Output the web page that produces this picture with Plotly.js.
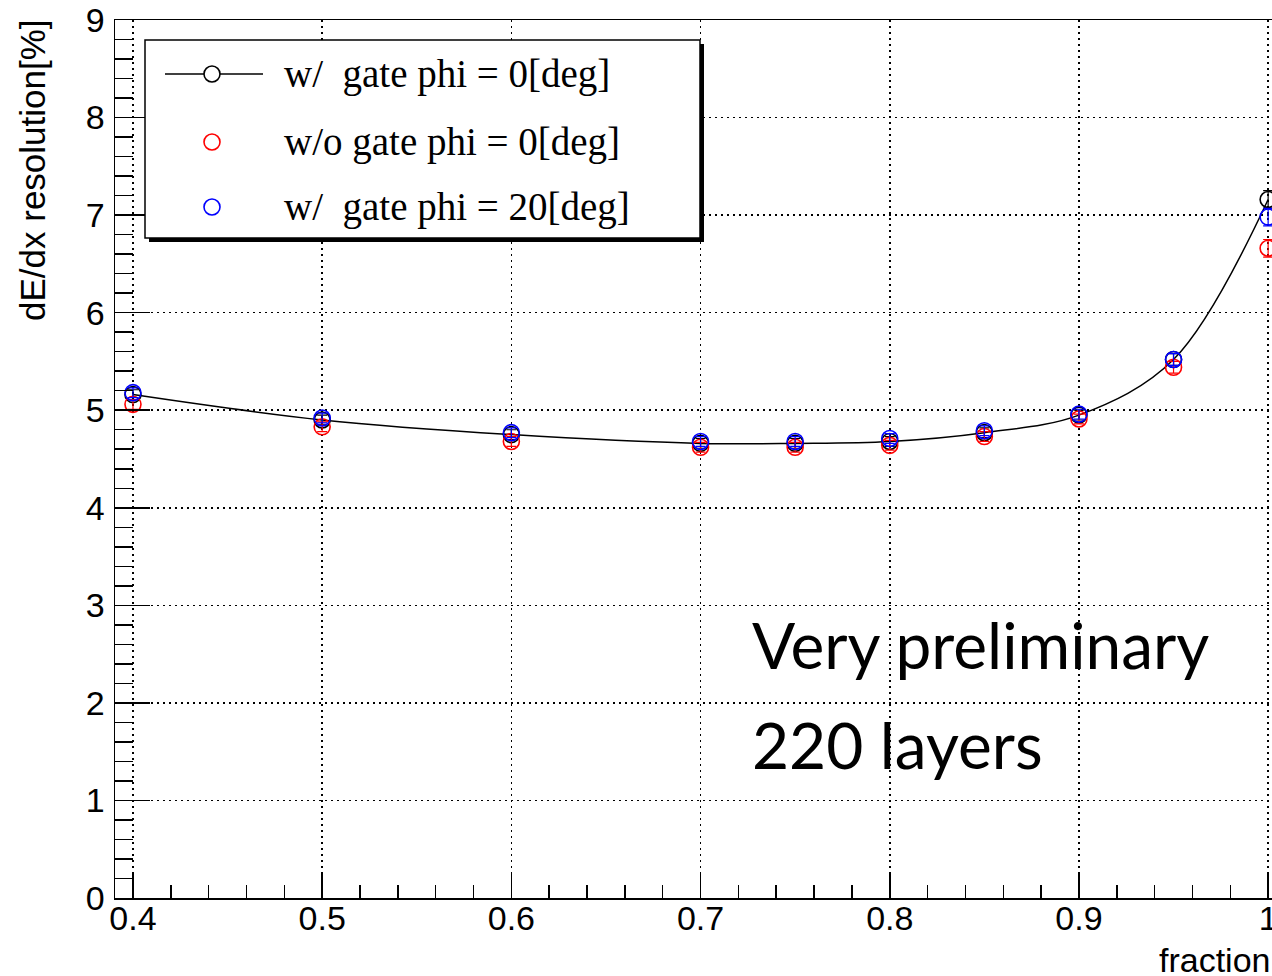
<!DOCTYPE html>
<html>
<head>
<meta charset="utf-8">
<script src="https://cdn.plot.ly/plotly-3.0.1.min.js"></script>
<style>html,body{margin:0;padding:0;overflow:hidden;background:#fff;width:1272px;height:976px;}</style>
</head>
<body>
<div id="chart" style="width:1295px;height:976px;"></div>
<script>
// ---- data ----
var fraction = [0.4, 0.5, 0.6, 0.7, 0.75, 0.8, 0.85, 0.9, 0.95, 1.0];
var gatePhi0 = [5.16, 4.90, 4.75, 4.66, 4.66, 4.68, 4.77, 4.95, 5.52, 7.16];
var noGatePhi0 = [5.06, 4.83, 4.68, 4.62, 4.62, 4.64, 4.73, 4.91, 5.44, 6.66];
var gatePhi20 = [5.18, 4.92, 4.77, 4.68, 4.68, 4.71, 4.79, 4.96, 5.52, 6.98];
var errGatePhi0 = [0.05, 0.05, 0.05, 0.05, 0.05, 0.05, 0.05, 0.05, 0.06, 0.09];
var errNoGatePhi0 = [0.05, 0.05, 0.05, 0.05, 0.05, 0.05, 0.05, 0.05, 0.06, 0.09];
var errGatePhi20 = [0.05, 0.05, 0.05, 0.05, 0.05, 0.05, 0.05, 0.05, 0.06, 0.09];
var seriesNames = ["w/\u00A0\u00A0gate phi = 0[deg]", "w/o gate phi = 0[deg]", "w/\u00A0\u00A0gate phi = 20[deg]"];
var xTickVals = [0.4, 0.5, 0.6, 0.7, 0.8, 0.9, 1.0];
var xTickText = ["0.4", "0.5", "0.6", "0.7", "0.8", "0.9", "1"];
var yTickVals = [0, 1, 2, 3, 4, 5, 6, 7, 8, 9];
var yTickText = ["0", "1", "2", "3", "4", "5", "6", "7", "8", "9"];
var xTitle = "fraction";
var yTitle = "dE/dx resolution[%]";
var noteLines = ["Very preliminary", "220 layers"];

// ---- geometry helpers (pixels -> paper) ----
var L = 115, T = 20, W = 1173, H = 878;
function px(x) { return (x - L) / W; }
function py(y) { return (T + H - y) / H; }

var markerSize = 16;
function series(y, err, color, name, withLine) {
  return {
    x: fraction, y: y, name: name, type: 'scatter',
    mode: withLine ? 'lines+markers' : 'markers',
    line: {color: 'black', width: 1.5, shape: 'spline', smoothing: 1},
    marker: {symbol: 'circle-open', size: markerSize, color: color, line: {width: 1.6, color: color}},
    error_y: {type: 'data', array: err, visible: true, color: color, thickness: 1.2, width: 5},
    showlegend: false, cliponaxis: false
  };
}

var data = [
  series(gatePhi0, errGatePhi0, 'black', seriesNames[0], true),
  series(noGatePhi0, errNoGatePhi0, 'red', seriesNames[1], false),
  series(gatePhi20, errGatePhi20, 'blue', seriesNames[2], false)
];

var legendColors = ['black', 'red', 'blue'];
var legendRows = [74, 142, 207];
var shapes = [
  {type: 'rect', xref: 'paper', yref: 'paper', x0: px(149), x1: px(704), y0: py(44), y1: py(242),
   fillcolor: 'black', line: {width: 0}, layer: 'above'},
  {type: 'rect', xref: 'paper', yref: 'paper', x0: px(145), x1: px(700), y0: py(40), y1: py(238),
   fillcolor: 'white', line: {width: 1.5, color: 'black'}, layer: 'above'},
  {type: 'line', xref: 'paper', yref: 'paper', x0: px(165), x1: px(263), y0: py(74), y1: py(74),
   line: {width: 1.5, color: 'black'}, layer: 'above'}
];
for (var i = 0; i < 3; i++) {
  shapes.push({type: 'circle', xref: 'paper', yref: 'paper', xsizemode: 'pixel', ysizemode: 'pixel',
    xanchor: px(212), yanchor: py(legendRows[i]), x0: -8, x1: 8, y0: -8, y1: 8,
    fillcolor: 'white', line: {width: 1.6, color: legendColors[i]}, layer: 'above'});
}

var annotations = [];
for (var j = 0; j < 3; j++) {
  annotations.push({xref: 'paper', yref: 'paper', x: px(282), y: py(legendRows[j]), xanchor: 'left', yanchor: 'middle',
    text: seriesNames[j], showarrow: false, font: {family: 'Liberation Serif, Times New Roman, serif', size: 39, color: 'black'}});
}
annotations.push({xref: 'paper', yref: 'paper', x: px(33), y: py(17), xanchor: 'center', yanchor: 'top', textangle: -90,
  text: yTitle, showarrow: false, font: {family: 'Liberation Sans, Arial, sans-serif', size: 35, color: 'black'}});
annotations.push({xref: 'paper', yref: 'paper', x: px(1157), y: py(960), xanchor: 'left', yanchor: 'middle',
  text: xTitle, showarrow: false, font: {family: 'Liberation Sans, Arial, sans-serif', size: 34, color: 'black'}});
annotations.push({xref: 'paper', yref: 'paper', x: px(750), y: py(644), xanchor: 'left', yanchor: 'middle',
  text: noteLines[0], showarrow: false, font: {family: 'Lato, Carlito, Calibri, sans-serif', size: 64, color: 'black'}});
annotations.push({xref: 'paper', yref: 'paper', x: px(750), y: py(744), xanchor: 'left', yanchor: 'middle',
  text: noteLines[1], showarrow: false, font: {family: 'Lato, Carlito, Calibri, sans-serif', size: 64, color: 'black'}});

var tickFont = {family: 'Liberation Sans, Arial, sans-serif', size: 34, color: 'black'};
var gridDash = '2px,4px';
var layout = {
  width: 1295, height: 976,
  margin: {l: L, t: T, r: 1295 - L - W, b: 976 - T - H, pad: 0},
  paper_bgcolor: 'white', plot_bgcolor: 'white',
  showlegend: false,
  xaxis: {
    range: [0.3905, 1.0105], tickmode: 'array', tickvals: xTickVals, ticktext: xTickText,
    ticks: 'inside', ticklen: 25, tickwidth: 1.5, tickcolor: 'black',
    minor: {tickmode: 'linear', tick0: 0.4, dtick: 0.02, ticks: 'inside', ticklen: 13, tickwidth: 1.5, tickcolor: 'black', showgrid: false},
    showgrid: true, gridcolor: 'black', griddash: gridDash, gridwidth: 1.5,
    showline: true, linecolor: 'black', linewidth: 1.5, mirror: true, zeroline: false,
    tickfont: tickFont, ticklabelstandoff: -10
  },
  yaxis: {
    range: [0, 9], tickmode: 'array', tickvals: yTickVals, ticktext: yTickText,
    ticks: 'inside', ticklen: 35, tickwidth: 1.5, tickcolor: 'black',
    minor: {tickmode: 'linear', tick0: 0, dtick: 0.2, ticks: 'inside', ticklen: 18, tickwidth: 1.5, tickcolor: 'black', showgrid: false},
    showgrid: true, gridcolor: 'black', griddash: gridDash, gridwidth: 1.5,
    showline: true, linecolor: 'black', linewidth: 1.5, mirror: true, zeroline: false,
    tickfont: tickFont, ticklabelstandoff: 2
  },
  shapes: shapes,
  annotations: annotations
};

Plotly.newPlot('chart', data, layout, {staticPlot: true, displayModeBar: false});
</script>
</body>
</html>
